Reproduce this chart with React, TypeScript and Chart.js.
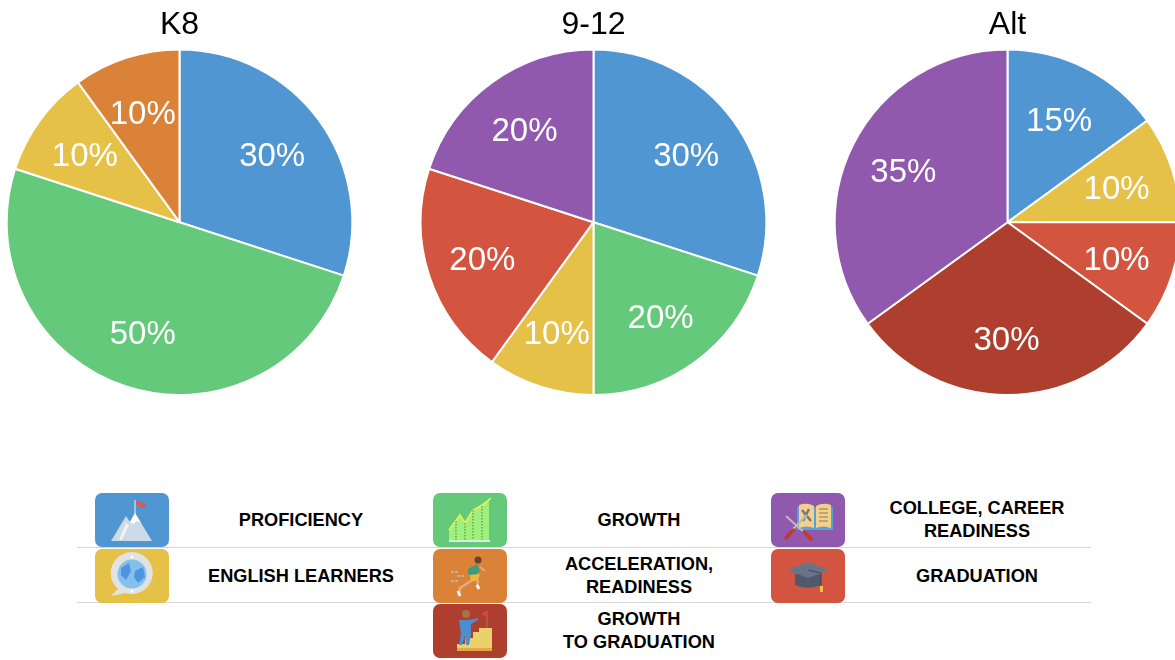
import React, { useEffect, useRef } from "react";
import { Chart, registerables } from "chart.js";

Chart.register(...registerables);

const BLUE = "#5096d3";
const GREEN = "#64c97b";
const YELLOW = "#e6c147";
const ORANGE = "#d98238";
const RED = "#d35540";
const DARK_RED = "#ae3f2f";
const PURPLE = "#9159ae";

const k8Labels = ["Proficiency", "Growth", "English Learners", "Acceleration, Readiness"];
const k8Values = [30, 50, 10, 10];
const k8Colors = [BLUE, GREEN, YELLOW, ORANGE];

const hsLabels = ["Proficiency", "Growth", "English Learners", "Graduation", "College, Career Readiness"];
const hsValues = [30, 20, 10, 20, 20];
const hsColors = [BLUE, GREEN, YELLOW, RED, PURPLE];

const altLabels = ["Proficiency", "English Learners", "Graduation", "Growth to Graduation", "College, Career Readiness"];
const altValues = [15, 10, 10, 30, 35];
const altColors = [BLUE, YELLOW, RED, DARK_RED, PURPLE];

const percentLabels = {
  id: "percentLabels",
  afterDatasetsDraw(chart: any) {
    const { ctx } = chart;
    const meta = chart.getDatasetMeta(0);
    const values = chart.data.datasets[0].data;
    ctx.save();
    ctx.fillStyle = "#ffffff";
    ctx.font = '33px "Liberation Sans", Arial, sans-serif';
    ctx.textAlign = "center";
    ctx.textBaseline = "middle";
    meta.data.forEach((arc: any, i: number) => {
      const mid = (arc.startAngle + arc.endAngle) / 2;
      const r = arc.outerRadius * 0.67;
      ctx.fillText(`${values[i]}%`, arc.x + Math.cos(mid) * r - 1, arc.y + Math.sin(mid) * r + 3);
    });
    ctx.restore();
  },
};

function Pie({ title, labels, values, colors, center }: any) {
  const ref = useRef<HTMLCanvasElement>(null);
  useEffect(() => {
    const chart = new Chart(ref.current!, {
      type: "pie",
      data: {
        labels,
        datasets: [{ data: values, backgroundColor: colors, borderColor: "#ffffff", borderWidth: 2 }],
      },
      options: {
        animation: false,
        responsive: false,
        maintainAspectRatio: false,
        layout: { padding: { left: 1 } },
        plugins: {
          legend: { display: false },
          tooltip: { enabled: false },
          title: {
            display: true,
            text: title,
            color: "#000000",
            font: { family: '"Liberation Sans", Arial, sans-serif', size: 32, weight: "normal" },
            padding: { top: 6, bottom: 4 },
          },
        },
      },
      plugins: [percentLabels],
    } as any);
    return () => chart.destroy();
  }, []);
  return (
    <canvas
      ref={ref}
      width={360}
      height={396}
      style={{ position: "absolute", left: center - 180, top: 0, width: 360, height: 396 }}
    />
  );
}

const iconBox = (color: string, children: React.ReactNode, left: number, top: number) => (
  <svg
    width={74}
    height={54}
    viewBox="0 0 74 54"
    style={{ position: "absolute", left, top, borderRadius: 7, background: color }}
  >
    {children}
  </svg>
);

const mountainIcon = (
  <g>
    <path d="M16 48 L31 23 L35 29 L40 20 L57 48 Z" fill="#cddbe6" />
    <path d="M35 29 L40 20 L46 30 L42 28 L38 31 Z" fill="#fff" />
    <path d="M24 47 L31 30 L34 32 L27 47 Z" fill="#eef3f6" />
    <path d="M40 7 V21" stroke="#eee" strokeWidth="1" />
    <path d="M41 8 h6 v4 h-6 z M45 10 h6 v5 h-6 z" fill="#dc5a55" />
  </g>
);
const growthIcon = (
  <g>
    <path d="M16 37 L27 22 L32 30 L40 17 L56 6 V47 H16 Z" fill="#9ff07c" />
    <path d="M16 37 L27 22 L32 30 L40 17 L50 12 L58 5" fill="none" stroke="#f0ee50" strokeWidth="1.6" />
    <path d="M23 28 V47 M32 30 V47 M40 17 V47 M49 13 V47" stroke="#3b8a3d" strokeWidth="1" strokeDasharray="1.5 1.5" />
    <path d="M16 48 H57" stroke="#fff" strokeWidth="1.5" />
  </g>
);
const bookIcon = (
  <g>
    <path d="M26 14 H62 V37 H26 Z" fill="#54a4dc" />
    <path d="M28 12 Q36 9 43 13 V35 Q36 32 28 35 Z M45 13 Q52 9 60 12 V35 Q52 32 45 35 Z" fill="#f3d08c" />
    <path d="M48 16 H57 M48 20 H57 M48 24 H57 M48 28 H57" stroke="#8a7a5a" strokeWidth="1.2" />
    <path d="M31 17 L40 28 M38 16 L32 28" stroke="#777" strokeWidth="2.5" />
    <path d="M15 23 L36 42" stroke="#bbb" strokeWidth="2" />
    <path d="M33 39 L40 46" stroke="#c0392b" strokeWidth="3.5" strokeLinecap="round" />
    <path d="M36 22 L20 38" stroke="#bbb" strokeWidth="2" />
    <path d="M22 37 L15 45" stroke="#c0392b" strokeWidth="3.5" strokeLinecap="round" />
  </g>
);
const globeIcon = (
  <g>
    <path d="M16 47 L23 40 A21 21 0 1 1 30 44 Z" fill="#dfe3e3" />
    <circle cx="37" cy="25" r="14.5" fill="#84c0ee" />
    <path d="M26 19 L34 14 L36 22 L31 31 L26 26 Z M40 22 L48 18 L50 28 L43 34 L39 28 Z" fill="#4f94e0" />
    <circle cx="37" cy="8" r="1.5" fill="#fff" />
    <circle cx="37" cy="42" r="1.5" fill="#fff" />
  </g>
);
const runnerIcon = (
  <g>
    <path d="M18 23 h8 M24 27 h8 M18 32 h8" stroke="#9ccad0" strokeWidth="1.3" strokeDasharray="3 1" />
    <circle cx="45" cy="11" r="3.5" fill="#6b3f2a" />
    <path d="M35 20 L44 15 L47 22 L41 27 L35 25 Z" fill="#3e9a7e" />
    <path d="M47 18 L52 22" stroke="#e8a888" strokeWidth="2" />
    <path d="M37 26 L47 25 L45 31 L38 33 Z" fill="#efb93e" />
    <path d="M38 32 L27 39 L26 44" stroke="#e8a888" strokeWidth="2.5" fill="none" />
    <path d="M45 31 L44 38" stroke="#e8a888" strokeWidth="2.5" />
    <path d="M25 42 L27 47 M44 36 L46 40" stroke="#f2f2f2" strokeWidth="3" />
  </g>
);
const capIcon = (
  <g>
    <path d="M24 25 V36 Q37 42 50 36 V25 Z" fill="#515a6c" />
    <path d="M16 21 L37 13 L58 21 L37 29 Z" fill="#6a7489" />
    <path d="M37 21 L50 24 V37" stroke="#3f4756" strokeWidth="1" fill="none" />
    <path d="M49 37 h3 v6 h-3 z" fill="#efc04a" />
  </g>
);
const stairsIcon = (
  <g>
    <path d="M24 47 V40 H32 V34 H40 V28 H46 V24 H59 V47 Z" fill="#ecd06b" />
    <path d="M24 44 H59 V47 H24 Z" fill="#e7a745" />
    <circle cx="33" cy="10" r="4" fill="#a8734a" />
    <path d="M26 16 H36 L45 14 V16 L38 20 V30 L36 41 H33 L32 32 L29 41 H26 L28 29 Z" fill="#4a8fd0" />
    <path d="M54 7 V24" stroke="#a8734a" strokeWidth="1" />
    <path d="M54 7 L48 10 L54 13 Z" fill="#d64a3f" />
  </g>
);

const rowTops = [493, 549, 604];
const columnLefts = [95, 433, 771];
const textCenters = [301, 639, 977];

const legendItems = [
  { col: 0, row: 0, color: BLUE, icon: mountainIcon, text: ["PROFICIENCY"] },
  { col: 1, row: 0, color: GREEN, icon: growthIcon, text: ["GROWTH"] },
  { col: 2, row: 0, color: PURPLE, icon: bookIcon, text: ["COLLEGE, CAREER", "READINESS"] },
  { col: 0, row: 1, color: YELLOW, icon: globeIcon, text: ["ENGLISH LEARNERS"] },
  { col: 1, row: 1, color: ORANGE, icon: runnerIcon, text: ["ACCELERATION,", "READINESS"] },
  { col: 2, row: 1, color: RED, icon: capIcon, text: ["GRADUATION"] },
  { col: 1, row: 2, color: DARK_RED, icon: stairsIcon, text: ["GROWTH", "TO GRADUATION"] },
];

export default function App() {
  useEffect(() => {
    document.body.style.margin = "0";
    document.body.style.overflow = "hidden";
  }, []);
  return (
    <div style={{ position: "fixed", left: 0, top: 0, width: 1175, height: 660, overflow: "hidden", background: "#fff" }}>
      <Pie title="K8" labels={k8Labels} values={k8Values} colors={k8Colors} center={179} />
      <Pie title="9-12" labels={hsLabels} values={hsValues} colors={hsColors} center={593} />
      <Pie title="Alt" labels={altLabels} values={altValues} colors={altColors} center={1007} />
      {[547, 602].map((y) => (
        <div key={y} style={{ position: "absolute", left: 77, top: y, width: 1014, height: 1, background: "#d8d8d8" }} />
      ))}
      {legendItems.map((item) => (
        <React.Fragment key={item.text.join(" ")}>
          {iconBox(item.color, item.icon, columnLefts[item.col], rowTops[item.row])}
          <div
            style={{
              position: "absolute",
              left: textCenters[item.col] - 130,
              top: rowTops[item.row],
              width: 260,
              height: 54,
              display: "flex",
              flexDirection: "column",
              justifyContent: "center",
              alignItems: "center",
              fontFamily: '"Liberation Sans", Arial, sans-serif',
              fontSize: 18.2,
              fontWeight: 700,
              lineHeight: "23px",
              color: "#000",
              textAlign: "center",
              whiteSpace: "nowrap",
            }}
          >
            {item.text.map((t) => (
              <div key={t}>{t}</div>
            ))}
          </div>
        </React.Fragment>
      ))}
    </div>
  );
}
